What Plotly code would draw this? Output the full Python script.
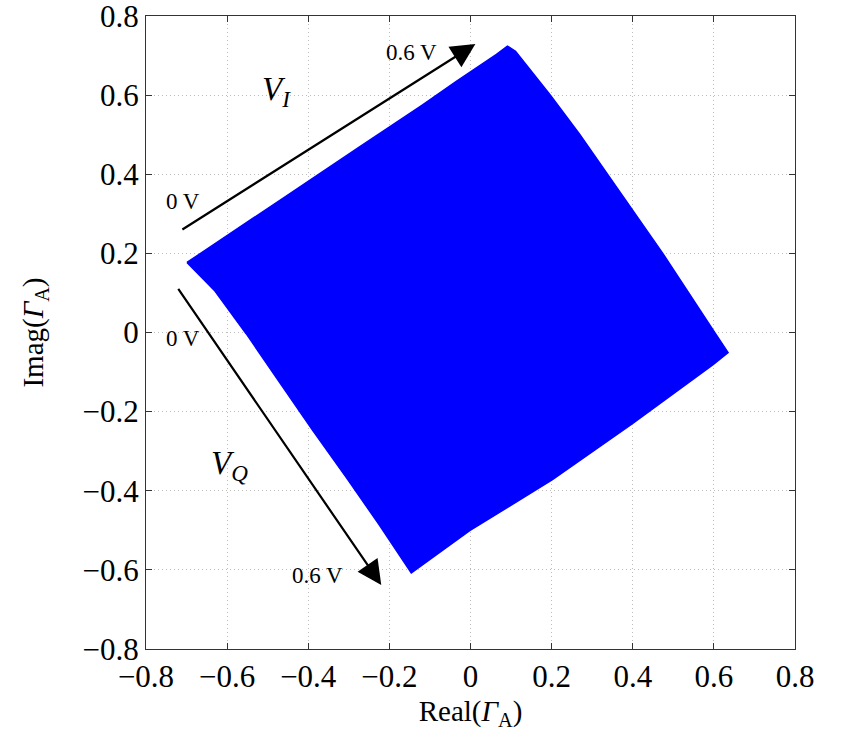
import plotly.graph_objects as go

# Boundary of the reachable reflection-coefficient region
boundary_real = [-0.699, -0.627, -0.546, -0.447, -0.281, -0.200, -0.119, -0.035, 0.064, 0.091,
                 0.111, 0.197, 0.269, 0.336, 0.474, 0.602, 0.635,
                 0.598, 0.516, 0.400, 0.202, -0.002, -0.146,
                 -0.225, -0.306, -0.390, -0.472, -0.553, -0.630, -0.699]
boundary_imag = [0.177, 0.226, 0.282, 0.350, 0.464, 0.519, 0.575, 0.635, 0.703, 0.724,
                 0.711, 0.600, 0.501, 0.403, 0.200, 0.000, -0.051,
                 -0.081, -0.142, -0.230, -0.372, -0.501, -0.608,
                 -0.486, -0.367, -0.246, -0.124, -0.003, 0.105, 0.177]

# Arrows (start -> end) for the V_I and V_Q sweeps
arrow_vi = {"x0": -0.714, "y0": 0.258, "x1": 0.012, "y1": 0.729}
arrow_vq = {"x0": -0.723, "y0": 0.114, "x1": -0.220, "y1": -0.638}

tick_vals = [-0.8, -0.6, -0.4, -0.2, 0, 0.2, 0.4, 0.6, 0.8]
tick_text = ["\u22120.8", "\u22120.6", "\u22120.4", "\u22120.2", "0", "0.2", "0.4", "0.6", "0.8"]

FONT = "Liberation Serif, Times New Roman, serif"

fig = go.Figure()
fig.add_trace(go.Scatter(
    x=boundary_real, y=boundary_imag, mode="lines", fill="toself",
    fillcolor="#0000ff", line=dict(color="#0000ff", width=1.5),
    hoverinfo="skip", showlegend=False))

annotations = []
for a in (arrow_vi, arrow_vq):
    annotations.append(dict(
        x=a["x1"], y=a["y1"], ax=a["x0"], ay=a["y0"],
        xref="x", yref="y", axref="x", ayref="y",
        showarrow=True, arrowhead=2, arrowsize=2.2, arrowwidth=2.2,
        arrowcolor="black", standoff=0, startstandoff=0, text=""))

labels = [
    (-0.146, 0.709, "0.6 V", 23),
    (-0.709, 0.332, "0 V", 23),
    (-0.709, -0.015, "0 V", 23),
    (-0.378, -0.613, "0.6 V", 23),
    (-0.479, 0.610, "<i>V</i><sub><i>I</i></sub>", 33),
    (-0.595, -0.337, "<i>V</i><sub><i>Q</i></sub>", 33),
]
for x, y, t, s in labels:
    annotations.append(dict(x=x, y=y, xref="x", yref="y", text=t, showarrow=False,
                            font=dict(family=FONT, size=s, color="black")))

axis_common = dict(
    range=[-0.8, 0.8], tickvals=tick_vals, ticktext=tick_text,
    showgrid=True, gridcolor="#bdbdbd", griddash="1px,3px", gridwidth=1,
    showline=True, linecolor="#333333", linewidth=1.2, mirror="allticks",
    ticks="inside", ticklen=6, tickcolor="#333333",
    zeroline=False, tickfont=dict(family=FONT, size=31, color="black"),
    fixedrange=True, automargin=False, ticklabeloverflow="allow",
)

fig.update_layout(
    template="none",
    width=853, height=738,
    margin=dict(l=146, r=58, t=16, b=89, autoexpand=False),
    paper_bgcolor="white", plot_bgcolor="white",
    xaxis=dict(**axis_common,
               title=dict(text="Real(<i>\u0393</i><sub>A</sub>)", standoff=7,
                          font=dict(family=FONT, size=29, color="black"))),
    yaxis=dict(**axis_common,
               title=dict(text="Imag(<i>\u0393</i><sub>A</sub>)", standoff=30,
                          font=dict(family=FONT, size=29, color="black"))),
    annotations=annotations,
    showlegend=False,
)

fig.write_html("out.html", config={"displayModeBar": False},
               post_script="document.body.style.margin='0px';document.body.style.overflow='hidden';")
